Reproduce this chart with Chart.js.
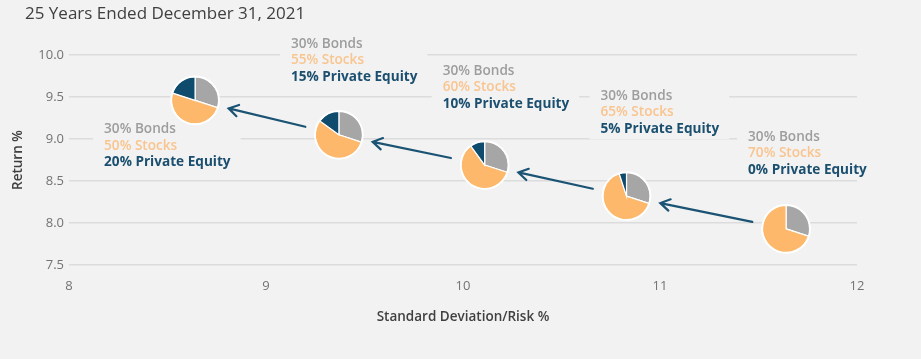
<!DOCTYPE html>
<html>
<head>
<meta charset="utf-8">
<script src="https://cdn.jsdelivr.net/npm/chart.js@4"></script>
<style>
  html, body { margin: 0; padding: 0; background: #f2f2f2; }
  #wrap { width: 921px; height: 359px; }
</style>
</head>
<body>
<div id="wrap"><canvas id="chart"></canvas></div>
<script>
const title = '25 Years Ended December 31, 2021'
// one entry per portfolio mix
const risk = [8.64, 9.37, 10.11, 10.83, 11.64]
const ret = [9.46, 9.05, 8.69, 8.32, 7.93]
const bonds = [30, 30, 30, 30, 30]
const stocks = [50, 55, 60, 65, 70]
const privateEquity = [20, 15, 10, 5, 0]
const xTicks = [8, 9, 10, 11, 12]
const yTicks = [7.5, 8.0, 8.5, 9.0, 9.5, 10.0]

// where each text block sits, relative to its pie (px)
const labelOffset = [[-91, 29], [-48, -91], [-42, -94], [-26, -100], [-38, -92]]

const BG = '#f2f2f2'
const BOND = '#a6a6a6'
const STOCK = '#fdb86b'
const PE = '#0f4b6c'
const FONT = "'Open Sans', sans-serif"

const pieRadius = 23.5

const piePlugin = {
  id: 'pies',
  beforeDraw(chart) {
    const ctx = chart.ctx
    ctx.save()
    ctx.fillStyle = BG
    ctx.fillRect(0, 0, chart.width, chart.height)
    ctx.fillStyle = '#404040'
    ctx.font = '500 17px ' + FONT
    ctx.textBaseline = 'middle'
    ctx.textAlign = 'left'
    ctx.fillText(title, 25, 14)
    ctx.restore()
  },
  afterDatasetsDraw(chart) {
    const ctx = chart.ctx
    const pts = chart.getDatasetMeta(0).data

    // text blocks with a background box that hides the grid
    ctx.save()
    ctx.textBaseline = 'middle'
    ctx.textAlign = 'left'
    pts.forEach((p, i) => {
      const tx = p.x + labelOffset[i][0]
      const ty = p.y + labelOffset[i][1]
      const lines = [
        [bonds[i] + '% Bonds', '#9d9d9d', '600'],
        [stocks[i] + '% Stocks', '#f9c48e', '600'],
        [privateEquity[i] + '% Private Equity', '#1b4f6f', '700']
      ]
      let w = 0
      lines.forEach((l) => {
        ctx.font = l[2] + ' 13.6px ' + FONT
        w = Math.max(w, ctx.measureText(l[0]).width)
      })
      ctx.fillStyle = BG
      ctx.fillRect(tx - 11, ty - 10, w + 21, 2 * 16.5 + 20)
      lines.forEach((l, k) => {
        ctx.font = l[2] + ' 13.6px ' + FONT
        ctx.fillStyle = l[1]
        ctx.fillText(l[0], tx, ty + k * 16.5)
      })
    })
    ctx.restore()

    // arrows from each mix to the next one
    ctx.save()
    ctx.strokeStyle = '#1a5373'
    ctx.lineWidth = 2.2
    ctx.lineCap = 'round'
    for (let i = pts.length - 1; i > 0; i--) {
      const a = pts[i], b = pts[i - 1]
      const dx = b.x - a.x, dy = b.y - a.y
      const len = Math.hypot(dx, dy)
      const ux = dx / len, uy = dy / len
      const gap = pieRadius + 11
      const sx = a.x + ux * gap, sy = a.y + uy * gap
      const ex = b.x - ux * gap, ey = b.y - uy * gap
      ctx.beginPath()
      ctx.moveTo(sx, sy)
      ctx.lineTo(ex, ey)
      const ang = Math.atan2(uy, ux)
      const head = 11
      ctx.moveTo(ex - head * Math.cos(ang - 0.55), ey - head * Math.sin(ang - 0.55))
      ctx.lineTo(ex, ey)
      ctx.lineTo(ex - head * Math.cos(ang + 0.55), ey - head * Math.sin(ang + 0.55))
      ctx.stroke()
    }
    ctx.restore()

    // pies
    ctx.save()
    pts.forEach((p, i) => {
      const parts = [[bonds[i], BOND], [stocks[i], STOCK], [privateEquity[i], PE]]
      let start = -Math.PI / 2
      parts.forEach((s) => {
        if (s[0] <= 0) return
        const end = start + (s[0] / 100) * Math.PI * 2
        ctx.beginPath()
        ctx.moveTo(p.x, p.y)
        ctx.arc(p.x, p.y, pieRadius, start, end)
        ctx.closePath()
        ctx.fillStyle = s[1]
        ctx.fill()
        ctx.strokeStyle = '#ffffff'
        ctx.lineWidth = 1.2
        ctx.stroke()
        start = end
      })
      ctx.beginPath()
      ctx.arc(p.x, p.y, pieRadius + 0.6, 0, Math.PI * 2)
      ctx.strokeStyle = '#ffffff'
      ctx.lineWidth = 1.5
      ctx.stroke()
    })
    ctx.restore()
  }
}

window.addEventListener('load', function () {
  const ctx = document.getElementById('chart')
  new Chart(ctx, {
    type: 'scatter',
    data: {
      datasets: [{
        label: 'portfolio mix',
        data: risk.map((x, i) => ({ x: x, y: ret[i] })),
        pointRadius: 0,
        pointHoverRadius: 0
      }]
    },
    options: {
      responsive: true,
      maintainAspectRatio: false,
      animation: false,
      events: [],
      layout: { padding: { left: 0, right: 64, top: 55, bottom: 0 } },
      plugins: {
        legend: { display: false },
        title: { display: false },
        tooltip: { enabled: false }
      },
      scales: {
        x: {
          type: 'linear',
          min: 8,
          max: 12,
          afterBuildTicks: (s) => { s.ticks = xTicks.map((v) => ({ value: v })) },
          afterFit: (s) => { s.height = 94 },
          grid: { display: false, drawTicks: false },
          border: { display: false },
          ticks: {
            padding: 13,
            color: '#737373',
            font: { family: FONT, size: 13 },
            callback: (v) => String(v)
          },
          title: {
            display: true,
            text: 'Standard Deviation/Risk %',
            color: '#404040',
            font: { family: FONT, size: 13.5, weight: '600' },
            padding: { top: 0, bottom: 34 }
          }
        },
        y: {
          type: 'linear',
          min: 7.5,
          max: 10,
          afterBuildTicks: (s) => { s.ticks = yTicks.map((v) => ({ value: v })) },
          afterFit: (s) => { s.width = 69 },
          grid: { color: '#dcdcdc', lineWidth: 1.5, drawTicks: false },
          border: { display: false },
          ticks: {
            padding: 5,
            color: '#737373',
            font: { family: FONT, size: 13 },
            callback: (v) => v.toFixed(1)
          },
          title: {
            display: true,
            text: 'Return %',
            color: '#404040',
            font: { family: FONT, size: 13.5, weight: '600' },
            padding: { top: 10, bottom: 0 }
          }
        }
      }
    },
    plugins: [piePlugin]
  })
})
</script>
</body>
</html>
